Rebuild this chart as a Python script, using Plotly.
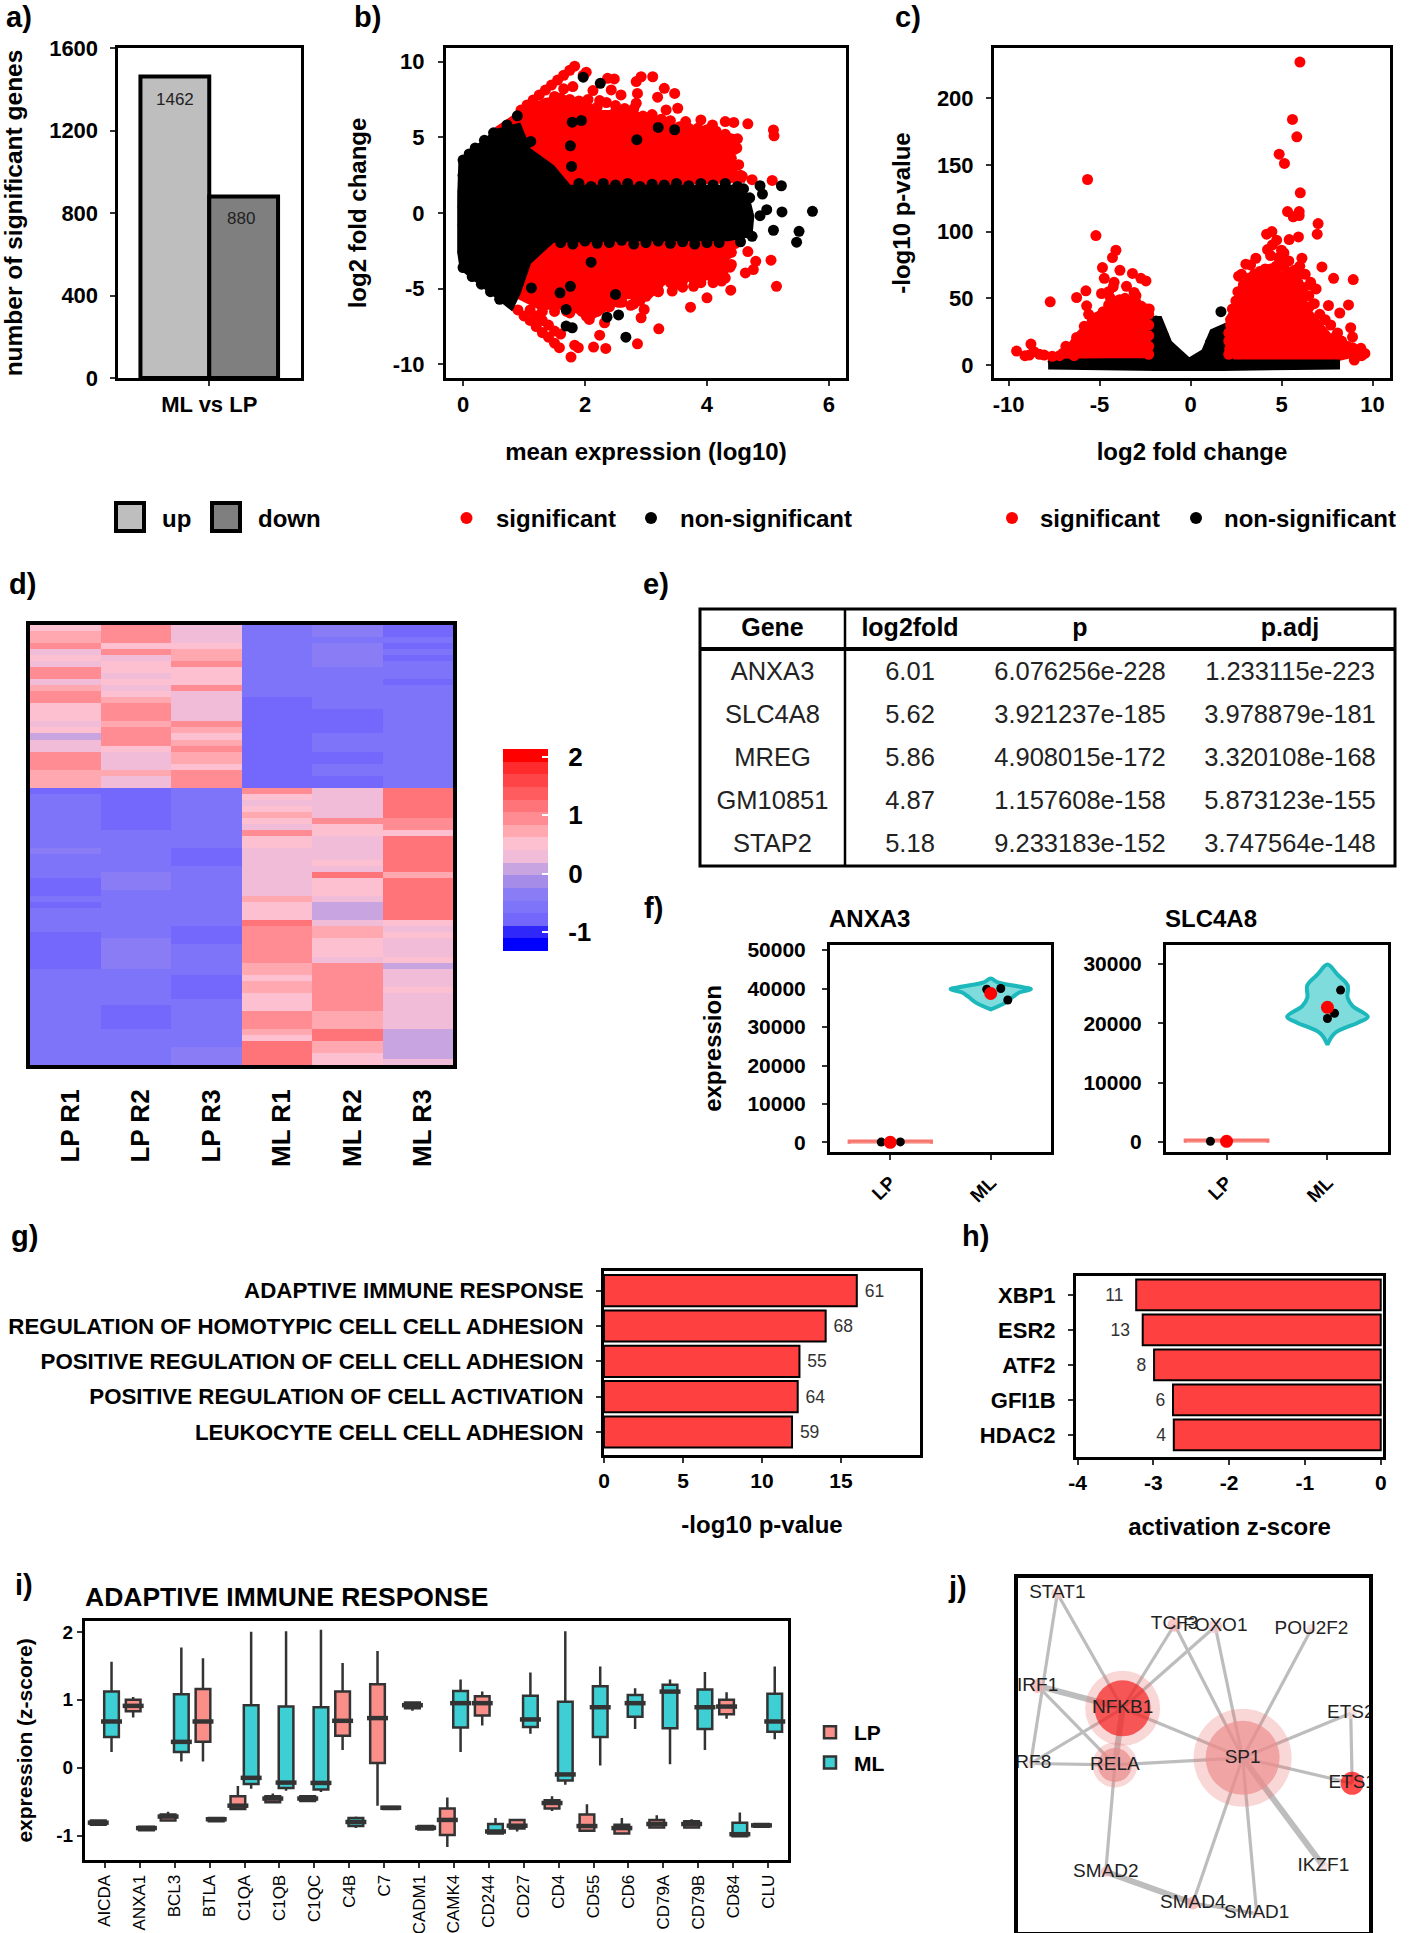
import plotly.graph_objects as go

W, H = 1416, 1933
FONT = "Liberation Sans"

# ---------- a) ----------
bar_cat = ["ML vs LP"]
up_count = [1462]
down_count = [880]

# ---------- b) MA plot ----------
ma_red_up_x = [0.55,0.95,1.35,1.64,2.02,2.24,2.78,3.32,3.54,3.97,4.41,4.41,4.62,1.8,1.2]
ma_red_up_y = [5.5,6.6,7.4,7.6,7.25,6.6,6.6,5.9,5.3,5.5,5.05,2.6,2.2,1.8,3.0]
ma_red_lo_x = [1.37,4.35,4.30,3.81,3.38,3.05,2.67,2.13,1.69,1.26,0.82,1.10]
ma_red_lo_y = [-1.8,-1.8,-4.0,-4.4,-4.2,-5.5,-5.5,-6.8,-6.2,-6.2,-5.3,-3.5]
ma_black_x = [-0.06,0.55,0.93,1.10,1.48,1.75,4.52,4.68,4.76,4.73,4.35,2.89,1.48,1.10,0.93,0.80,-0.04,-0.08,-0.08]
ma_black_y = [3.5,5.5,5.9,4.2,3.1,1.8,1.8,1.1,-0.2,-1.5,-1.8,-1.8,-1.9,-3.3,-5.3,-6.4,-3.7,-2.6,1.1]
ma_red_x = [2.02,1.97,2.37,2.48,2.84,2.92,3.11,3.30,3.47,2.13,2.24,2.43,2.59,2.86,3.19,2.84,3.52,3.33,3.65,3.90,4.09,4.30,4.44,4.67,5.09,5.10,4.52,4.74,5.07,4.58,4.49,4.44,
            0.95,1.05,1.15,1.25,1.35,1.45,1.55,1.65,1.75,1.83,1.35,1.5,1.65,1.8,
            4.46,4.35,4.67,4.80,5.05,4.38,4.76,4.63,4.24,4.39,5.14,3.78,4.00,3.73,3.43,3.21,3.00,2.97,2.92,2.32,2.24,2.86,2.34,2.14,1.83,1.89,1.77,1.58,2.02,2.07,
            0.90,1.00,1.10,1.20,1.30,1.40,1.50,1.10,1.20,1.30,1.40,1.50,1.60,
            2.1,2.3,2.5,2.9,3.3,3.7,4.1,4.5,
            1.7,2.0,2.3,2.6,2.9,3.2,3.5,3.8,4.1,3.6,3.2,2.8,2.4,2.55,2.75,
            1.10,1.30,1.45,1.60,1.75,1.90,2.05,2.20,2.35,2.50,2.65,2.80,2.95,3.10,3.25,3.40,3.55,3.70,3.85,4.00,4.15,4.30,4.45,4.40,4.42,4.55,
            3.90,4.10,4.30,3.60,3.40,3.20,2.90,2.60,2.40,2.20,1.95,1.75,1.50,1.30,4.40,4.40]
ma_red_y = [9.3,9.1,8.9,8.86,8.68,9.0,9.0,8.24,7.9,8.09,7.43,8.13,7.8,7.9,7.65,7.25,6.92,6.81,6.04,6.15,5.82,6.04,5.98,5.89,5.49,5.1,3.19,2.2,2.15,2.42,4.29,4.84,
            6.8,7.14,7.47,7.8,8.12,8.45,8.78,9.1,9.43,9.7,7.2,7.7,8.2,8.35,
            -2.02,-2.68,-2.55,-3.19,-3.12,-3.58,-3.74,-3.96,-4.5,-5.1,-4.84,-4.84,-5.6,-6.22,-5.16,-7.65,-5.5,-6.37,-6.92,-7.25,-8.07,-8.64,-8.95,-8.86,-8.73,-8.9,-9.52,-8.9,-6.81,-7.03,
            -6.4,-6.8,-7.1,-7.5,-7.9,-8.2,-8.6,-6.4,-6.8,-7.1,-7.4,-7.8,-8.0,
            6.6,6.4,6.7,6.2,5.7,5.4,5.2,4.9,
            -6.5,-6.3,-6.0,-5.8,-5.7,-5.1,-4.7,-4.6,-4.6,-4.9,-5.2,-6.0,-6.2,-5.9,-6.1,
            6.2,6.6,7.2,7.6,7.5,7.4,7.5,7.0,7.3,7.1,6.9,6.9,6.4,6.5,6.2,6.1,5.7,5.6,5.6,5.5,5.4,5.2,4.2,3.6,2.9,2.5,
            -4.6,-4.4,-4.3,-4.5,-4.6,-5.2,-5.8,-5.9,-6.1,-6.5,-6.5,-6.6,-6.5,-6.5,-3.4,-2.6]
ma_black_pts_x = [2.25,1.97,3.20,3.47,1.79,1.94,1.76,2.85,1.11,0.89,0.72,1.78,4.87,5.22,4.91,4.98,4.87,5.23,5.73,5.51,5.47,5.09,4.74,4.55,
                  2.10,1.76,1.59,2.50,1.69,2.36,2.55,1.69,1.79,2.67,1.12,
                  1.9,2.1,2.3,2.5,2.7,2.9,3.1,3.3,3.5,3.7,3.9,4.1,4.3,4.5,
                  1.6,1.8,2.0,2.2,2.4,2.6,2.8,3.0,3.2,3.4,3.6,3.8,4.0,4.2,
                  4.60,4.70,4.55,4.65,0.0,0.0,0.0,0.0,0.1,0.2,0.35,0.5,0.15,0.3,0.45,0.6,0.0,0.0,0.0]
ma_black_pts_y = [8.57,8.97,5.65,5.5,6.0,6.11,4.44,4.84,4.73,6.42,5.82,3.08,1.8,1.8,1.25,0.22,-0.18,0.07,0.11,-1.21,-1.93,-1.14,-1.54,-1.43,
                  -3.25,-4.84,-5.27,-5.38,-6.37,-6.88,-6.73,-7.47,-7.58,-8.2,-4.95,
                  1.95,1.75,1.95,1.85,1.95,1.75,1.9,1.85,1.95,1.8,1.95,1.85,1.95,1.75,
                  -1.95,-2.05,-1.85,-2.0,-1.95,-1.8,-2.05,-1.95,-1.85,-2.0,-1.9,-2.05,-1.95,-1.95,
                  1.6,1.0,-1.9,-1.3,3.5,2.5,-2.6,-3.6,3.9,4.3,4.8,5.3,-4.2,-4.7,-5.2,-5.7,1.4,0.4,-0.8]

# ---------- c) volcano ----------
vol_red_left_x = [-4.84,-3.37,-2.4,-2.3,-2.4,-7.77,-6.8,-6.1,-5.4]
vol_red_left_y = [41,46,38.6,13.7,3.7,1.2,11,23.7,33.7]
vol_red_right_x = [2.2,2.86,3.96,5.6,6.5,7.6,9.0,7.25,2.1,2.1]
vol_red_right_y = [36,61,71,66,40,22,8,2.5,3.7,18.7]
vol_black_x = [-7.77,-2.4,-2.2,-1.63,-1.08,-0.07,0.66,1.12,1.94,2.3,7.25,8.16,8.16,1.76,-1.9,-7.77]
vol_black_y = [4,4.5,36,36,17.5,5,11,26,31,3.5,3.5,3.5,-2.5,-3.7,-3.7,-2.5]
vol_red_x = [6.01,5.6,5.84,4.87,5.16,-5.66,6.03,5.33,5.97,5.64,5.97,7.01,6.96,-5.2,5.93,5.42,4.47,4.18,4.73,4.5,4.23,5.13,4.84,6.12,7.22,7.86,8.94,8.68,7.58,8.2,8.8,8.08,8.9,9.58,9.0,9.36,3.59,3.04,2.64,2.49,5.15,5.7,6.6,6.9,6.52,6.06,3.96,
             -4.1,-4.29,-4.84,-3.88,-3.19,-2.73,-2.45,-4.74,-4.25,-3.52,-5.75,-6.26,-4.89,-3.1,-7.71,-5.71,-5.6,-5.84,-2.27,-9.56,-8.77,-8.86,-8.04,-6.85,-6.26,
             -9.1,-8.6,-8.3,-7.6,-7.2,-6.6,-6.4,8.5,8.9,9.1,7.9,7.4,6.2,5.0,
             2.3,2.6,2.9,3.2,3.5,3.8,4.1,4.4,4.7,5.0,5.3,5.6,5.9,6.2,6.5,6.8,7.1,7.4,7.7,8.0,8.3,8.6,8.9,9.2,9.4,6.3,6.6,6.0,5.4,3.3,2.8,4.4,5.0,
             -7.0,-6.6,-6.3,-6.0,-5.7,-5.4,-5.1,-4.8,-4.5,-4.2,-3.9,-3.6,-3.3,-3.0,-2.7,-2.4,-2.3,-2.3,-2.3,-2.3,-2.3,-4.4,-4.5,-4.2,-3.0,
             2.2,2.1,2.1,2.15,2.1,2.3,2.2]
vol_red_y = [227,184,171,158,151,139,129,115,115,111,112,106,98,97,96,94,100,98,93.5,90,86.5,84,80.5,80,73.5,65,64,45,44.6,39,28,24,21,8.7,3.7,12.5,80,75.6,66.6,48,76,71,62,57,43.6,68.6,68.6,
             86,80.5,73,71,68.6,65,63,65,58.6,59,55.6,50.6,53.6,54.4,47.4,44.4,38,29,42,10.5,15.7,7.5,7.5,14,20.7,
             7,10,8,6.5,7,10,7,10,13,7,18,14,52,40,
             42,55,60,65,68,70,72,72,74,74,70,66,62,58,52,46,38,34,30,22,18,14,11,9,7,68,60,74,78,75,68,82,86,
             9,13,17,22,28,33,36,40,45,47,49,50,48,47,44,42,38,30,22,14,8,50,55,62,52,
             30,24,18,12,8,36,34]
vol_black_pts_x = [1.67,-1.9,-1.7,-1.5,1.6,1.3,1.1]
vol_black_pts_y = [40,33,27,22,25,21,17]

# ---------- d) heatmap ----------
heat_labels = ["LP R1","LP R2","LP R3","ML R1","ML R2","ML R3"]
lp_r1 = [.55,.65,.75,.9,.2,.55,.3,1.0,1.0,.25,.65,.85,.9,.55,.6,.6,.4,.5,.15,.4,.3,.95,.85,1.0,.65,.7,.7,
         -.68,-.6,-.55,-.55,-.55,-.65,-.62,-.55,-.55,-.52,-.45,-.55,-.55,-.62,-.65,-.68,-.7,-.72,-.65,-.68,-.6,-.6,-.65,-.65,-.68,-.72,-.72,-.72,-.68,-.68,-.62,-.55,-.55,-.55,-.55,-.55,-.52,-.55,-.52,-.5,-.6,-.55,-.5,-.5,-.5,-.5]
lp_r2 = [1.0,1.0,.95,.6,1.0,.3,.55,.5,.25,.55,.35,.55,.7,1.0,1.0,.95,.7,1.05,1.05,1.0,.6,.3,.25,.35,.65,.3,.3,
         -.75,-.72,-.72,-.7,-.72,-.72,-.75,-.6,-.6,-.55,-.5,-.5,-.55,-.5,-.45,-.42,-.45,-.5,-.5,-.48,-.5,-.5,-.55,-.55,-.52,-.45,-.45,-.45,-.45,-.45,-.5,-.5,-.55,-.55,-.6,-.65,-.7,-.72,-.72,-.72,-.55,-.52,-.52,-.5,-.5,-.5]
lp_r3 = [.35,.3,.3,.45,.65,.7,1.0,.6,.6,.6,1.0,.35,.3,.3,.35,.3,.95,.65,.6,.7,1.0,.65,.7,.6,.95,1.0,1.0,
         -.55,-.55,-.52,-.5,-.5,-.55,-.62,-.62,-.62,-.6,-.7,-.7,-.68,-.65,-.65,-.6,-.55,-.55,-.55,-.52,-.52,-.52,-.55,-.72,-.72,-.68,-.62,-.62,-.6,-.62,-.65,-.7,-.7,-.72,-.72,-.6,-.58,-.62,-.62,-.58,-.5,-.48,-.48,-.46,-.46,-.46]
ml_r1 = [-.5,-.55,-.65,-.6,-.55,-.6,-.6,-.5,-.5,-.5,-.5,-.65,-.7,-.7,-.72,-.72,-.72,-.72,-.7,-.72,-.7,-.72,-.72,-.72,-.7,-.72,-.72,
         .85,.6,.35,.6,.65,.5,.35,1.05,.5,.45,.3,.4,.25,.2,.35,.25,.2,.25,.7,.45,.45,.45,1.15,.95,.95,1.0,1.05,1.0,.95,.7,.65,.5,.65,.65,.6,.55,.6,1.0,1.0,1.0,.65,.6,1.1,1.1,1.1,1.15]
ml_r2 = [-.45,-.45,-.5,-.45,-.45,-.45,-.45,-.5,-.55,-.65,-.6,-.62,-.55,-.62,-.68,-.72,-.72,-.72,-.6,-.62,-.65,-.7,-.72,-.65,-.6,-.72,-.7,
         .3,.25,.3,.2,.3,.85,.55,.5,.2,.25,.2,.4,.45,.4,1.1,.55,.5,.45,.2,.15,.15,.15,.25,.7,.65,.6,.6,.55,.3,.95,.95,.95,1.0,1.05,1.0,1.0,.95,.7,.7,.7,1.1,1.1,.65,.7,.6,.6]
ml_r3 = [-.72,-.7,-.65,-.72,-.65,-.72,-.65,-.62,-.65,-.7,-.6,-.55,-.5,-.55,-.6,-.5,-.55,-.5,-.55,-.5,-.55,-.5,-.5,-.5,-.55,-.5,-.55,
         1.15,1.1,1.1,1.15,1.1,1.05,.95,.6,1.2,1.25,1.15,1.15,1.2,1.2,.75,1.15,1.2,1.2,1.2,1.2,1.25,1.25,.55,.2,.45,.2,.2,.25,.45,.15,.4,.25,.3,.5,.25,.4,.4,.3,.25,.4,.1,.05,.1,.15,.15,.25]
heat_band_colors = ["#0000ff","#3028fa","#7468fc","#7e74fa","#8a7cf5","#a48ce8","#c8a4e0","#f0bcd8","#fcc0d0","#ffa8b0","#ff8c92","#ff7478","#ff5c60","#ff4448","#ff2a2c","#ff0000"]

# ---------- e) table ----------
tbl_header = ["Gene","log2fold","p","p.adj"]
tbl_gene = ["ANXA3","SLC4A8","MREG","GM10851","STAP2"]
tbl_fold = ["6.01","5.62","5.86","4.87","5.18"]
tbl_p = ["6.076256e-228","3.921237e-185","4.908015e-172","1.157608e-158","9.233183e-152"]
tbl_padj = ["1.233115e-223","3.978879e-181","3.320108e-168","5.873123e-155","3.747564e-148"]

# ---------- f) violins ----------
anxa_ml_y = [42600,41600,40500,39800,38900,37800,36200,34600]
anxa_ml_w = [0,0.07,0.28,0.40,0.28,0.22,0.14,0]
anxa_lp_y = [-350,400]
anxa_lp_w = [0.41,0.41]
anxa_pts_x = [0.91,1.1,1.0,1.96,2.1,2.17]
anxa_pts_y = [100,150,50,39800,40000,37000]
anxa_mean_x = [1,2]
anxa_mean_y = [50,38700]
slc_ml_y = [29900,28200,26400,24300,22900,21100,20100,18300,16400]
slc_ml_w = [0,0.1,0.2,0.2,0.25,0.40,0.3,0.07,0]
slc_lp_y = [-120,330]
slc_lp_w = [0.41,0.41]
slc_pts_x = [0.84,1.0,2.13,2.07,2.0]
slc_pts_y = [120,100,25600,21700,20800]
slc_mean_x = [1,2]
slc_mean_y = [100,22700]

# ---------- g) h) ----------
go_terms = ["ADAPTIVE IMMUNE RESPONSE","REGULATION OF HOMOTYPIC CELL CELL ADHESION","POSITIVE REGULATION OF CELL CELL ADHESION","POSITIVE REGULATION OF CELL ACTIVATION","LEUKOCYTE CELL CELL ADHESION"]
go_values = [16.0,14.03,12.37,12.26,11.9]
go_counts = ["61","68","55","64","59"]
tf_names = ["XBP1","ESR2","ATF2","GFI1B","HDAC2"]
tf_values = [-3.226,-3.14,-2.99,-2.74,-2.73]
tf_counts = ["11","13","8","6","4"]

# ---------- i) boxes ----------
box_genes = ["AICDA","ANXA1","BCL3","BTLA","C1QA","C1QB","C1QC","C4B","C7","CADM1","CAMK4","CD244","CD27","CD4","CD55","CD6","CD79A","CD79B","CD84","CLU"]
lp_low = [-.84,.74,-.78,.09,-.61,-.51,-.49,.26,-.56,.84,-1.17,.62,-.94,-.64,-.93,-.97,-.88,-.90,.72,-.87]
lp_q1  = [-.84,.83,-.78,.38,-.61,-.51,-.49,.47,.07,.875,-.99,.77,-.895,-.60,-.93,-.97,-.88,-.88,.785,-.87]
lp_med = [-.81,.91,-.72,.68,-.56,-.455,-.455,.69,.73,.92,-.77,.95,-.855,-.52,-.86,-.89,-.83,-.83,.90,-.85]
lp_q3  = [-.78,1.0,-.69,1.16,-.42,-.42,-.42,1.12,1.23,.96,-.60,1.05,-.77,-.48,-.69,-.84,-.77,-.79,1.0,-.83]
lp_hi  = [-.78,1.04,-.65,1.61,-.27,-.38,-.42,1.54,1.72,.96,-.44,1.12,-.76,-.42,-.54,-.74,-.70,-.76,1.11,-.83]
ml_low = [.23,-.92,.09,-.79,-.31,-.34,-.36,-.89,-.61,-.91,.23,-.97,.50,-.25,.03,.57,.05,.26,-1.01,.42]
ml_q1  = [.45,-.92,.23,-.79,-.24,-.30,-.32,-.86,-.61,-.91,.59,-.97,.60,-.19,.45,.75,.58,.57,-1.01,.53]
ml_med = [.68,-.89,.38,-.76,-.15,-.22,-.225,-.80,-.59,-.885,.95,-.94,.71,-.10,.89,.95,1.12,.89,-.98,.68]
ml_q3  = [1.12,-.87,1.08,-.74,.92,.90,.89,-.74,-.58,-.86,1.13,-.83,1.06,.97,1.20,1.07,1.22,1.15,-.81,1.09]
ml_hi  = [1.56,-.87,1.77,-.74,2.0,2.01,2.03,-.72,-.58,-.86,1.30,-.74,1.40,2.01,1.49,1.17,1.30,1.41,-.66,1.49]

# ---------- j) network ----------
net_names = ["STAT1","TCF3","FOXO1","POU2F2","IRF1","NFKB1","RELA","IRF8","SP1","ETS2","ETS1","SMAD2","SMAD4","SMAD1","IKZF1"]
net_x = [11.2,44.6,56.2,83.6,5.6,29.8,27.6,3.6,64,94.8,95.2,25,49.8,68,87]
net_y = [95.6,86.8,86.3,85.6,69.5,63.2,47.2,47.6,49.2,61.8,42,17,8.2,5.2,18.6]
net_size = [12,14,14,10,14,56,34,10,74,12,23,10,13,8,10]
net_halo = [0,0,0,0,0,75,45,0,98,0,0,0,0,0,0]
net_color = ["#f4c8c8","#f4b0b0","#f4c8c8","#f6d8d8","#f4a8a8","#f52020","#e88a8a","#f6d8d8","#ec8e8e","#f6d8d8","#ff0000","#f4b0b0","#f4a8a8","#f6d8d8","#f6d8d8"]
edges_thin = [("STAT1","NFKB1"),("STAT1","IRF8"),("TCF3","NFKB1"),("FOXO1","NFKB1"),("TCF3","SP1"),("FOXO1","SP1"),("POU2F2","SP1"),("IRF1","RELA"),("IRF8","NFKB1"),("IRF8","RELA"),("NFKB1","SP1"),("RELA","SP1"),("SP1","ETS2"),("SP1","ETS1"),("ETS2","ETS1"),("SP1","SMAD4"),("SP1","SMAD1"),("RELA","SMAD2"),("SMAD4","SMAD1")]
edges_thick = [("IRF1","NFKB1"),("NFKB1","RELA"),("SP1","IKZF1"),("SMAD2","SMAD4")]

# ===================== helpers =====================
def dom(x0, x1, y0, y1):
    return dict(x=[x0 / W, x1 / W], y=[1 - y1 / H, 1 - y0 / H])

def bold(s, color="black"):
    return dict(family=FONT, size=s, color=color, weight="bold")

def reg(s, color="black"):
    return dict(family=FONT, size=s, color=color)

FRAME = dict(showline=True, mirror=True, linecolor="black", linewidth=3, ticks="outside", ticklen=5,
             tickwidth=2, tickcolor="#333", showgrid=False, zeroline=False, automargin=False)

def axis(domain, font=None, title=None, tsize=24, standoff=None, **kw):
    a = dict(FRAME)
    a["domain"] = domain
    a["tickfont"] = font or bold(22)
    if title:
        t = dict(text=title, font=bold(tsize))
        if standoff is not None:
            t["standoff"] = standoff
        a["title"] = t
    a.update(kw)
    return a

fig = go.Figure()

# a)
fig.add_bar(x=bar_cat, y=up_count, name="up", marker=dict(color="#bebebe", line=dict(color="black", width=4)), xaxis="x", yaxis="y", showlegend=False)
fig.add_bar(x=bar_cat, y=down_count, name="down", marker=dict(color="#7f7f7f", line=dict(color="black", width=4)), xaxis="x", yaxis="y", showlegend=False)

# b)
def poly(px, py, color, xa, ya, lw=6):
    fig.add_scatter(x=px + px[:1], y=py + py[:1], mode="lines", fill="toself", fillcolor=color,
                    line=dict(color=color, width=lw), xaxis=xa, yaxis=ya, showlegend=False, hoverinfo="skip")

def dots(px, py, color, xa, ya, size=11):
    fig.add_scatter(x=px, y=py, mode="markers", marker=dict(color=color, size=size, line=dict(width=0)),
                    xaxis=xa, yaxis=ya, showlegend=False)

poly(ma_red_up_x, ma_red_up_y, "#ff0000", "x2", "y2")
poly(ma_red_lo_x, ma_red_lo_y, "#ff0000", "x2", "y2")
dots(ma_red_x, ma_red_y, "#ff0000", "x2", "y2")
poly(ma_black_x, ma_black_y, "#000000", "x2", "y2", 2)
dots(ma_black_pts_x, ma_black_pts_y, "#000000", "x2", "y2")

# c)
poly(vol_red_left_x, vol_red_left_y, "#ff0000", "x3", "y3")
poly(vol_red_right_x, vol_red_right_y, "#ff0000", "x3", "y3")
poly(vol_black_x, vol_black_y, "#000000", "x3", "y3", 2)
dots(vol_black_pts_x, vol_black_pts_y, "#000000", "x3", "y3")
dots(vol_red_x, vol_red_y, "#ff0000", "x3", "y3")

# d)
heat_cols = [lp_r1, lp_r2, lp_r3, ml_r1, ml_r2, ml_r3]
heat_z = [list(r) for r in zip(*heat_cols)]
n_band = len(heat_band_colors)
band_scale = []
for i, c in enumerate(heat_band_colors):
    band_scale += [[i / n_band, c], [(i + 1) / n_band, c]]
NB = "\u00a0"
fig.add_heatmap(z=heat_z, zmin=-1.33, zmax=2.14, xaxis="x4", yaxis="y4", colorscale=band_scale,
                colorbar=dict(x=503.5 / W, xanchor="left", xpad=0, ypad=0, y=1 - 850 / H, yanchor="middle", len=201.5 / H, lenmode="fraction",
                              thickness=45, outlinewidth=0, ticks="inside", ticklen=6, tickwidth=2, tickcolor="white",
                              tickvals=[-1, 0, 1, 2], ticktext=[NB * 2 + s for s in ["-1", "0", "1", "2"]], tickfont=bold(26)))

# e)
fig.add_table(domain=dict(x=[700 / W, 1395 / W], y=[1 - 870 / H, 1 - 609 / H]),
              columnwidth=[145, 130, 210, 210],
              header=dict(values=tbl_header, align="center", height=44, font=bold(25), fill_color="white", line_color="white"),
              cells=dict(values=[tbl_gene, tbl_fold, tbl_p, tbl_padj], align="center", height=43, font=reg(25.5, "#222"), fill_color="white", line_color="white"))

# f)
def violin(ys, hw, center, line, fill, xa, ya, lw=4, shape="spline"):
    xs = [center - w for w in hw] + [center + w for w in reversed(hw)]
    yy = ys + ys[::-1]
    fig.add_scatter(x=xs, y=yy, mode="lines", fill="toself", fillcolor=fill, line=dict(color=line, width=lw, shape=shape),
                    xaxis=xa, yaxis=ya, showlegend=False)

violin(anxa_lp_y, anxa_lp_w, 1, "#f8766d", "#f8a09a", "x5", "y5", 3, "linear")
violin(anxa_ml_y, anxa_ml_w, 2, "#1cb8bc", "#7fdcdc", "x5", "y5")
dots(anxa_pts_x, anxa_pts_y, "#000000", "x5", "y5", 9)
dots(anxa_mean_x, anxa_mean_y, "#ff0000", "x5", "y5", 13)
violin(slc_lp_y, slc_lp_w, 1, "#f8766d", "#f8a09a", "x6", "y6", 3, "linear")
violin(slc_ml_y, slc_ml_w, 2, "#1cb8bc", "#7fdcdc", "x6", "y6")
dots(slc_pts_x, slc_pts_y, "#000000", "x6", "y6", 9)
dots(slc_mean_x, slc_mean_y, "#ff0000", "x6", "y6", 13)

# g) h)
fig.add_bar(x=go_values, y=go_terms, orientation="h", text=[NB + s for s in go_counts], textposition="outside", textfont=reg(17.5, "#333"),
            marker=dict(color="#ff4040", line=dict(color="black", width=2)), xaxis="x7", yaxis="y7", showlegend=False, cliponaxis=False, width=0.88)
fig.add_bar(x=tf_values, y=tf_names, orientation="h", text=[s + NB * len(s) for s in tf_counts], textposition="outside", textfont=reg(17.5, "#333"),
            marker=dict(color="#ff4040", line=dict(color="black", width=2)), xaxis="x8", yaxis="y8", showlegend=False, cliponaxis=False, width=0.88)

# i)
idx = list(range(len(box_genes)))
lp_pos = [i - 0.19 for i in idx]
ml_pos = [i + 0.19 for i in idx]
fig.add_box(x=lp_pos, q1=lp_q1, median=lp_med, q3=lp_q3, lowerfence=lp_low, upperfence=lp_hi, name="LP", width=0.42, whiskerwidth=0,
            fillcolor="#fa8f8a", line=dict(color="#333", width=2.5), xaxis="x9", yaxis="y9", legend="legend")
fig.add_box(x=ml_pos, q1=ml_q1, median=ml_med, q3=ml_q3, lowerfence=ml_low, upperfence=ml_hi, name="ML", width=0.42, whiskerwidth=0,
            fillcolor="#3ecfd4", line=dict(color="#333", width=2.5), xaxis="x9", yaxis="y9", legend="legend")
for pos_, med in ((lp_pos, lp_med), (ml_pos, ml_med)):
    fig.add_scatter(x=pos_, y=med, mode="markers", marker=dict(symbol="line-ew", size=15, line=dict(color="#333", width=4.5)),
                    xaxis="x9", yaxis="y9", showlegend=False)

# j)
pos = {n: (x, y) for n, x, y in zip(net_names, net_x, net_y)}
for edges, wd in ((edges_thin, 3.2), (edges_thick, 6)):
    ex, ey = [], []
    for a, b in edges:
        ex += [pos[a][0], pos[b][0], None]
        ey += [pos[a][1], pos[b][1], None]
    fig.add_scatter(x=ex, y=ey, mode="lines", line=dict(color="#bdbdbd", width=wd), xaxis="x10", yaxis="y10", showlegend=False, hoverinfo="skip")
fig.add_scatter(x=net_x, y=net_y, mode="markers", marker=dict(size=net_halo, color="rgba(235,120,120,0.42)", line=dict(width=0)),
                xaxis="x10", yaxis="y10", showlegend=False, hoverinfo="skip")
fig.add_scatter(x=net_x, y=net_y, mode="markers+text", text=net_names, textposition="middle center", textfont=reg(19, "#222"),
                marker=dict(size=net_size, color=net_color, line=dict(width=0)), xaxis="x10", yaxis="y10", showlegend=False)

# ===================== layout =====================
def hy(vals):
    return [str(v) for v in vals]

layout = dict(
    width=W, height=H, margin=dict(l=0, r=0, t=0, b=0, autoexpand=False), paper_bgcolor="white", plot_bgcolor="white",
    font=dict(family=FONT), barmode="group", bargap=0.25, bargroupgap=0, boxmode="overlay",
    legend=dict(x=806 / W, y=1 - 1712 / H, xanchor="left", yanchor="top", font=bold(21), bgcolor="rgba(0,0,0,0)", itemclick=False, tracegroupgap=0, itemwidth=38),
    xaxis=axis(dom(117.5, 301, 48, 378)["x"], anchor="y"),
    yaxis=axis(dom(117.5, 301, 48, 378)["y"], anchor="x", range=[0, 1600], tickvals=[0, 400, 800, 1200, 1600], ticklabelstandoff=7, title="number of significant genes", tsize=24.5, standoff=21),
    xaxis2=axis(dom(446, 846, 48, 378)["x"], anchor="y2", range=[-0.28, 6.28], tickvals=[0, 2, 4, 6], title="mean expression (log10)", standoff=27),
    yaxis2=axis(dom(446, 846, 48, 378)["y"], anchor="x2", range=[-10.9, 10.9], tickvals=[-10, -5, 0, 5, 10], ticktext=hy([-10, -5, 0, 5, 10]), ticklabelstandoff=9, title="log2 fold change", standoff=20),
    xaxis3=axis(dom(994, 1390, 48, 378)["x"], anchor="y3", range=[-10.8, 10.96], tickvals=[-10, -5, 0, 5, 10], ticktext=hy([-10, -5, 0, 5, 10]), title="log2 fold change", standoff=27),
    yaxis3=axis(dom(994, 1390, 48, 378)["y"], anchor="x3", range=[-9.7, 237.5], tickvals=[0, 50, 100, 150, 200], ticklabelstandoff=8, title="-log10 p-value", standoff=20),
    xaxis4=dict(domain=dom(30, 453, 625, 1065)["x"], anchor="y4", showline=True, mirror=True, linecolor="black", linewidth=4, ticks="", tickangle=-90,
                range=[-0.5, 5.5], tickvals=[0.07, 1.07, 2.07, 3.07, 4.07, 5.07], ticktext=heat_labels, ticklabelstandoff=10,
                tickfont=bold(26), showgrid=False, zeroline=False, automargin=False),
    yaxis4=dict(domain=dom(30, 453, 625, 1065)["y"], anchor="x4", showline=True, mirror=True, linecolor="black", linewidth=4, ticks="", showticklabels=False,
                range=[72.5, -0.5], showgrid=False, zeroline=False, automargin=False),
    xaxis5=axis(dom(830, 1051, 945, 1152)["x"], anchor="y5", range=[0.4, 2.6], tickvals=[1, 2], ticktext=["LP", "ML"], tickangle=-45, font=bold(19), ticklabelstandoff=4),
    yaxis5=axis(dom(830, 1051, 945, 1152)["y"], anchor="x5", range=[-2470, 51300], tickvals=[0, 10000, 20000, 30000, 40000, 50000], tickformat="d", font=bold(21), ticklabelstandoff=12, title="expression", standoff=19),
    xaxis6=axis(dom(1166, 1388, 945, 1152)["x"], anchor="y6", range=[0.4, 2.6], tickvals=[1, 2], ticktext=["LP", "ML"], tickangle=-45, font=bold(19), ticklabelstandoff=4),
    yaxis6=axis(dom(1166, 1388, 945, 1152)["y"], anchor="x6", range=[-1700, 33200], tickvals=[0, 10000, 20000, 30000], tickformat="d", font=bold(21), ticklabelstandoff=12),
    xaxis7=axis(dom(604, 920, 1271, 1455)["x"], anchor="y7", range=[0, 20], tickvals=[0, 5, 10, 15], font=bold(21), title="-log10 p-value", standoff=25),
    yaxis7=axis(dom(604, 920, 1271, 1455)["y"], anchor="x7", range=[4.65, -0.555], font=bold(22.3), ticklabelstandoff=8),
    xaxis8=axis(dom(1076, 1383, 1276, 1457)["x"], anchor="y8", range=[-4.02, 0.03], tickvals=[-4, -3, -2, -1, 0], ticktext=hy([-4, -3, -2, -1, 0]), font=bold(21), title="activation z-score", standoff=25),
    yaxis8=axis(dom(1076, 1383, 1276, 1457)["y"], anchor="x8", range=[4.63, -0.54], font=bold(22), ticklabelstandoff=8),
    xaxis9=axis(dom(85, 788, 1621, 1860)["x"], anchor="y9", range=[-0.57, 19.57], tickvals=idx, ticktext=box_genes, tickangle=-90, font=reg(17)),
    yaxis9=axis(dom(85, 788, 1621, 1860)["y"], anchor="x9", range=[-1.36, 2.16], tickvals=[-1, 0, 1, 2], ticktext=hy([-1, 0, 1, 2]), font=bold(19), title="expression (z-score)", tsize=21, standoff=18),
    xaxis10=dict(domain=dom(1018, 1369, 1578, 1932)["x"], anchor="y10", range=[0, 100], showline=True, mirror=True, linecolor="black", linewidth=4,
                 ticks="", showticklabels=False, showgrid=False, zeroline=False),
    yaxis10=dict(domain=dom(1018, 1369, 1578, 1932)["y"], anchor="x10", range=[0, 100], showline=True, mirror=True, linecolor="black", linewidth=4,
                 ticks="", showticklabels=False, showgrid=False, zeroline=False),
)

# panel letters + free text
ann = []
def note(text, x, y, font, anchor="left", **kw):
    ann.append(dict(text=text, x=x / W, y=1 - y / H, xref="paper", yref="paper", xanchor=anchor, yanchor="middle", showarrow=False, font=font, **kw))

for t, x, y in [("a)", 4, 17), ("b)", 352, 17), ("c)", 893, 17), ("d)", 7, 584), ("e)", 641, 584), ("f)", 642, 908),
                ("g)", 9, 1236), ("h)", 960, 1236), ("i)", 13, 1585), ("j)", 946, 1587)]:
    note(t, x, y, bold(29))

note("1462", 175, 99, reg(17, "#222"), anchor="center")
note("880", 241, 219, reg(17, "#222"), anchor="center")
note("up", 160, 518, bold(24))
note("down", 256, 518, bold(24))
note("significant", 494, 518, bold(24))
note("non-significant", 678, 518, bold(24))
note("significant", 1038, 518, bold(24))
note("non-significant", 1222, 518, bold(24))
note("ANXA3", 827, 918, bold(24))
note("SLC4A8", 1163, 918, bold(24))
note("ADAPTIVE IMMUNE RESPONSE", 83, 1597, bold(26.5))
layout["annotations"] = ann

# shapes: legend swatches and table rules
sh = []
def rect(x0, y0, x1, y1, fill="rgba(0,0,0,0)", lw=3):
    sh.append(dict(type="rect", xref="paper", yref="paper", x0=x0 / W, x1=x1 / W, y0=1 - y1 / H, y1=1 - y0 / H, fillcolor=fill, line=dict(color="black", width=lw)))
def hline(x0, x1, y, lw=2):
    sh.append(dict(type="line", xref="paper", yref="paper", x0=x0 / W, x1=x1 / W, y0=1 - y / H, y1=1 - y / H, line=dict(color="black", width=lw)))
def vline(x, y0, y1, lw=2):
    sh.append(dict(type="line", xref="paper", yref="paper", x0=x / W, x1=x / W, y0=1 - y1 / H, y1=1 - y0 / H, line=dict(color="black", width=lw)))
def dot(cx, cy, color, r=6):
    sh.append(dict(type="circle", xref="paper", yref="paper", x0=(cx - r) / W, x1=(cx + r) / W, y0=1 - (cy + r) / H, y1=1 - (cy - r) / H, fillcolor=color, line=dict(width=0)))

rect(116, 503, 144, 531, "#bebebe", 4)
rect(212, 503, 240, 531, "#7f7f7f", 4)
dot(466.5, 518, "#ff0000"); dot(651, 518, "#000000"); dot(1012, 518, "#ff0000"); dot(1196, 518, "#000000")
rect(700, 609, 1395, 866, lw=3)
hline(700, 1395, 649, 4)
vline(845, 609, 866, 2.5)
layout["shapes"] = sh

fig.update_layout(**layout)
fig.write_html("out.html", config={"displayModeBar": False}, post_script="document.body.style.margin='0';")
